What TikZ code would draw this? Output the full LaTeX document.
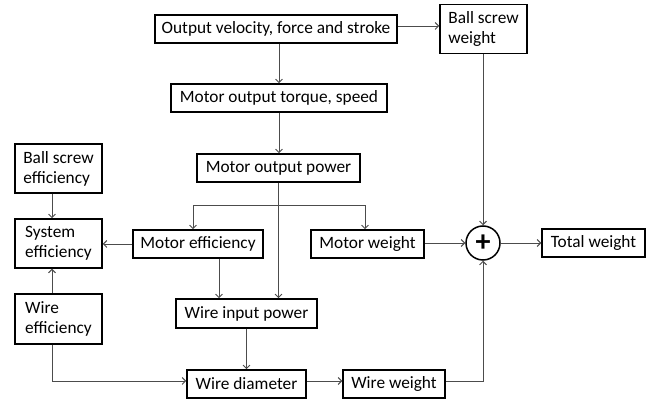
\documentclass[tikz,border=0pt]{standalone}
\usepackage{fontspec}
\setmainfont{Carlito}
\usetikzlibrary{arrows.meta}
\tikzset{
  box/.style={draw=black, line width=1.5pt, inner sep=0pt, align=center,
    font=\fontsize{17.3}{20}\selectfont},
  lbox/.style={draw=black, line width=1.5pt, inner sep=0pt, align=left,
    minimum width=87pt, font=\fontsize{17.3}{20}\selectfont},
  conn/.style={draw=black!70, line width=0.9pt},
  arr/.style={conn, -{Straight Barb[length=3.5pt,width=7pt]}},
  sumnode/.style={draw=black, line width=1.5pt, circle, minimum size=34pt, inner sep=0pt,
    font=\fontsize{30}{30}\bfseries\selectfont}
}
\begin{document}
\begin{tikzpicture}[x=1pt,y=-1pt]
\useasboundingbox[fill=white] (0,0) rectangle (657,403);
\node[box, minimum width=242pt, minimum height=28pt] (out) at (276,29) {Output velocity, force and stroke};
\node[lbox, minimum height=49pt] (bsw) at (483.5,29) {Ball screw\\weight};
\node[box, minimum width=216pt, minimum height=28pt] (torque) at (279,98) {Motor output torque, speed};
\node[box, minimum width=163pt, minimum height=28pt] (power) at (278.5,168) {Motor output power};
\node[lbox, minimum height=49pt] (bse) at (58.5,168.5) {Ball screw\\efficiency};
\node[lbox, minimum height=49pt] (syse) at (58.5,243.5) {System\\efficiency};
\node[box, minimum width=130pt, minimum height=28pt] (meff) at (198,244) {Motor efficiency};
\node[box, minimum width=113pt, minimum height=28pt] (mw) at (367.5,244) {Motor weight};
\node[sumnode] (plus) at (483,243) {+};
\node[box, minimum width=103pt, minimum height=28pt] (tw) at (593.5,243) {Total weight};
\node[lbox, minimum height=50pt] (weff) at (58.5,319) {Wire\\efficiency};
\node[box, minimum width=141pt, minimum height=29pt] (wip) at (246.5,313.5) {Wire input power};
\node[box, minimum width=119pt, minimum height=28pt] (wd) at (246.5,384) {Wire diameter};
\node[box, minimum width=102pt, minimum height=28pt] (ww) at (394,384) {Wire weight};

\coordinate (j) at (279,205);
\coordinate (mx) at (219,0);

\draw[arr] (torque.north |- out.south) -- (torque.north);
\draw[arr] (torque.south) -- (torque.south |- power.north);
\draw[arr] ([yshift=3pt]out.east) -- ([yshift=3pt]out.east -| bsw.west);
\draw[arr] (bsw.south -| plus) -- (plus.north);
\draw[arr] (power.south) -- (power.south |- wip.north);
\draw[arr] (j) -| ([xshift=-5pt]meff.north);
\draw[arr] (j) -| ([xshift=-2.5pt]mw.north);
\draw[arr] (meff.west) -- (meff.west -| syse.east);
\draw[arr] ([xshift=-6.5pt]bse.south) -- ([xshift=-6.5pt]syse.north);
\draw[arr] ([xshift=-6.5pt]weff.north) -- ([xshift=-6.5pt]syse.south);
\draw[arr] ([xshift=-6.5pt]weff.south) |- ([yshift=3pt]wd.west);
\draw[arr] (meff.south -| mx) -- (wip.north -| mx);
\draw[arr] (wip.south) -- (wd.north);
\draw[arr] ([yshift=3pt]wd.east) -- ([yshift=3pt]wd.east -| ww.west);
\draw[arr] ([yshift=3pt]ww.east) -| (plus.south);
\draw[arr] (mw.east |- plus.west) -- (plus.west);
\draw[arr] (plus.east) -- (plus.east -| tw.west);
\end{tikzpicture}
\end{document}
